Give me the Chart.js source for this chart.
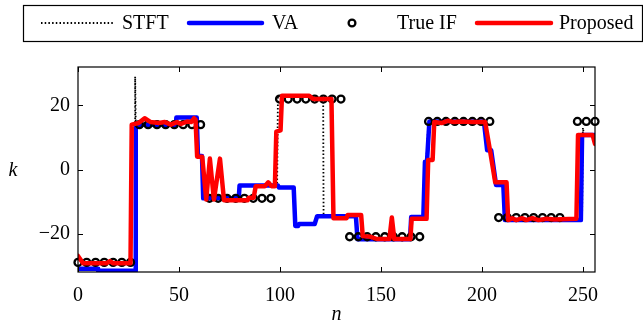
<!DOCTYPE html>
<html>
<head>
<meta charset="utf-8">
<script src="https://cdn.jsdelivr.net/npm/chart.js@4.4.1/dist/chart.umd.min.js"></script>
<style>
  html, body { margin: 0; padding: 0; background: #fff; }
  #wrap { width: 643px; height: 328px; }
</style>
</head>
<body>
<div id="wrap"><canvas id="chart" width="643" height="328"></canvas></div>
<script>
// axis ranges and ticks
const N_MIN = 0, N_MAX = 256;
const K_MIN = -32, K_MAX = 32;
const xTicks = [0, 50, 100, 150, 200, 250];
const yTicks = [-20, 0, 20];

// STFT estimate (dotted, mostly hidden under the other lines)
const stftN = [0, 10, 10, 28.3, 28.3, 28.6, 48.6, 48.6, 59, 59.2, 61.6, 61.8, 79.6, 79.8, 98.6, 99, 114.5, 116.5,
  121.4, 121.6, 137.8, 138, 164.6, 164.8, 171, 173.5, 201, 202.6, 204.6, 207, 210.6, 211.4, 249.6, 250, 250.6, 256];
const stftK = [-31, -31, -31.6, -31.6, 29, 14, 14, 16.2, 16.2, 4.2, 4.2, -9, -9, -5, -5, 23, 23, 22,
  22, -14.6, -14.6, -21.8, -21.8, -14.8, -14.8, 15, 15, 6, 6, -4.8, -4.8, -15.8, -15.8, 13, 10.8, 10.8];

// VA estimate
const vaN = [0, 10, 10, 28.4, 28.6, 48.5, 48.7, 58.8, 59.4, 61.4, 62, 79.6, 80, 99, 99.5, 106.8, 107.6, 109, 109.5,
  117.2, 118.4, 137.6, 138.4, 164.4, 165, 171, 171.8, 172.8, 174, 201, 202.6, 204.6, 207, 210.6, 211.4, 249, 249.6, 256];
const vaK = [-31, -31, -31.6, -31.6, 14, 14, 16.2, 16.2, 4.2, 4.2, -9, -9, -5, -5, -5.6, -5.6, -17.6, -17.6, -17,
  -17, -14.6, -14.6, -21.8, -21.8, -14.8, -14.8, 2.4, 2.4, 15, 15, 6, 6, -4.8, -4.8, -15.8, -15.8, 10.8, 10.8];

// true instantaneous frequency (markers)
const trueN = [0, 4.3, 8.7, 13, 17.4, 21.7, 26,
  30.4, 34.7, 39.1, 43.4, 47.7, 52.1, 56.4, 60.7,
  65.1, 69.4, 73.8, 78.1, 82.4, 86.8, 91.1, 95.5,
  99.8, 104.1, 108.5, 112.8, 117.2, 121.5, 125.8, 130.2,
  134.5, 138.8, 143.2, 147.5, 151.9, 156.2, 160.5, 164.9, 169.2,
  173.6, 177.9, 182.2, 186.6, 190.9, 195.3, 199.6, 203.9,
  208.3, 212.6, 217, 221.3, 225.6, 230, 234.3, 238.6,
  247.3, 251.7, 256];
const trueK = [-29, -29, -29, -29, -29, -29, -29,
  14, 14, 14, 14, 14, 14, 14, 14,
  -9, -9, -9, -9, -9, -9, -9, -9,
  22, 22, 22, 22, 22, 22, 22, 22,
  -21, -21, -21, -21, -21, -21, -21, -21, -21,
  15, 15, 15, 15, 15, 15, 15, 15,
  -15, -15, -15, -15, -15, -15, -15, -15,
  15, 15, 15];

// proposed estimate
const propN = [0, 2.5, 14, 15.8, 17.5, 26, 26.6, 30, 33, 36, 40, 43, 46, 49, 51, 54, 56, 57.5, 58.2, 59, 61.5,
  63.5, 65.3, 67.3, 70.3, 72.3, 84, 84.6, 87, 88, 92.5, 94.2, 95.8, 97.5, 98.2, 100.3, 101, 114.5, 116.5, 125.5,
  126.5, 133, 133.5, 140.2, 141, 145, 148, 154.2, 155.4, 156.6, 164.6, 165.2, 172.6, 173.4, 175.6, 176.4, 180,
  183, 186, 190, 195, 201.6, 204, 206.6, 212.2, 213, 215, 217, 220, 222, 225, 228, 232, 236, 246.8, 247.6, 254.8, 256];
const propK = [-27, -29.3, -29.3, -28.6, -29.3, -29.3, 14, 14.5, 16, 14.8, 14.5, 14.8, 14, 14.8, 14.2, 15, 14.8, 16, 15.5, 4, 4,
  -9.4, 3.4, -9.4, 3.4, -9.6, -9.6, -8.8, -8.8, -5.2, -5.2, -4, -5.2, -5.2, 11.8, 12.2, 23, 23, 22, 22,
  -15.2, -15.2, -14.2, -14.2, -20.8, -21, -21.7, -21.7, -15, -21.7, -21.7, -15.4, -15.4, 3, 3, 14.8, 14.5,
  15.2, 14.8, 15, 14.8, 14.8, 6, -4, -4, -15.8, -15.2, -15.8, -15.2, -15.8, -15.2, -15.8, -15.4, -15.6, -15.4, 10.8, 10.8, 8];

const toPoints = (xs, ys) => xs.map((x, i) => ({ x: x, y: ys[i] }));

const FONT = "'Liberation Serif', 'Times New Roman', serif";
const BLUE = '#0000ff';
const RED = '#ff0000';

// frame, inward ticks, axis names and the boxed legend
const decorations = {
  id: 'decorations',
  afterDraw(chart) {
    const ctx = chart.ctx;
    const area = chart.chartArea;
    const xs = chart.scales.x;
    const ys = chart.scales.y;
    ctx.save();
    ctx.strokeStyle = '#000';
    ctx.lineWidth = 1.2;
    ctx.strokeRect(area.left, area.top, area.right - area.left, area.bottom - area.top);

    ctx.lineWidth = 1;
    ctx.beginPath();
    xTicks.forEach(v => {
      const px = Math.round(xs.getPixelForValue(v)) + 0.5;
      ctx.moveTo(px, area.bottom); ctx.lineTo(px, area.bottom - 5);
      ctx.moveTo(px, area.top); ctx.lineTo(px, area.top + 5);
    });
    yTicks.forEach(v => {
      const py = Math.round(ys.getPixelForValue(v)) + 0.5;
      ctx.moveTo(area.left, py); ctx.lineTo(area.left + 5, py);
      ctx.moveTo(area.right, py); ctx.lineTo(area.right - 5, py);
    });
    ctx.stroke();

    ctx.fillStyle = '#000';
    ctx.font = 'italic 20px ' + FONT;
    ctx.textAlign = 'center';
    ctx.textBaseline = 'alphabetic';
    ctx.fillText('n', (area.left + area.right) / 2, 320);
    ctx.fillText('k', 13, 176);

    // legend
    const ly = 23;
    ctx.lineWidth = 1.2;
    ctx.strokeRect(23.5, 5.5, 619, 36);
    ctx.font = '20px ' + FONT;
    ctx.textAlign = 'left';
    ctx.textBaseline = 'middle';

    ctx.lineWidth = 1.8;
    ctx.setLineDash([1.5, 2.2]);
    ctx.beginPath(); ctx.moveTo(41, ly); ctx.lineTo(113, ly); ctx.stroke();
    ctx.setLineDash([]);
    ctx.fillText('STFT', 122, ly + 1);

    ctx.lineCap = 'round';
    ctx.strokeStyle = BLUE; ctx.lineWidth = 4.5;
    ctx.beginPath(); ctx.moveTo(189, ly); ctx.lineTo(262, ly); ctx.stroke();
    ctx.fillText('VA', 272, ly + 1);

    ctx.strokeStyle = '#000'; ctx.lineWidth = 2.3;
    ctx.beginPath(); ctx.arc(352, ly, 3.4, 0, Math.PI * 2); ctx.stroke();
    ctx.fillText('True IF', 397, ly + 1);

    ctx.strokeStyle = RED; ctx.lineWidth = 4.5;
    ctx.beginPath(); ctx.moveTo(477, ly); ctx.lineTo(551, ly); ctx.stroke();
    ctx.fillText('Proposed', 559, ly + 1);
    ctx.restore();
  }
};

const tickFont = { family: FONT, size: 20 };

new Chart(document.getElementById('chart'), {
  type: 'line',
  data: {
    datasets: [
      {
        label: 'Proposed',
        data: toPoints(propN, propK),
        borderColor: RED,
        borderWidth: 4.5,
        borderJoinStyle: 'round',
        borderCapStyle: 'round',
        pointRadius: 0,
        tension: 0,
        order: 0
      },
      {
        label: 'True IF',
        data: toPoints(trueN, trueK),
        showLine: false,
        pointStyle: 'circle',
        pointRadius: 3.5,
        pointBorderWidth: 2.3,
        pointBorderColor: '#000',
        pointBackgroundColor: 'rgba(0,0,0,0)',
        clip: false,
        order: 1
      },
      {
        label: 'VA',
        data: toPoints(vaN, vaK),
        borderColor: BLUE,
        borderWidth: 4.5,
        borderJoinStyle: 'round',
        borderCapStyle: 'round',
        pointRadius: 0,
        tension: 0,
        order: 2
      },
      {
        label: 'STFT',
        data: toPoints(stftN, stftK),
        borderColor: '#000',
        borderWidth: 1.8,
        borderDash: [1.5, 2.2],
        pointRadius: 0,
        tension: 0,
        order: 3
      }
    ]
  },
  options: {
    responsive: false,
    devicePixelRatio: 1,
    animation: false,
    layout: { padding: { left: 0, top: 67, right: 48, bottom: 0 } },
    plugins: {
      legend: { display: false },
      tooltip: { enabled: false }
    },
    scales: {
      x: {
        type: 'linear',
        min: N_MIN,
        max: N_MAX,
        grid: { display: false, drawTicks: false },
        border: { display: false },
        ticks: { font: tickFont, color: '#000', padding: 12, maxRotation: 0, autoSkip: false },
        afterBuildTicks: s => { s.ticks = xTicks.map(v => ({ value: v })); },
        afterFit: s => { s.height = 56; }
      },
      y: {
        type: 'linear',
        min: K_MIN,
        max: K_MAX,
        grid: { display: false, drawTicks: false },
        border: { display: false },
        ticks: {
          font: tickFont,
          color: '#000',
          padding: 8,
          callback: v => (v < 0 ? '\u2212' + Math.abs(v) : String(v))
        },
        afterBuildTicks: s => { s.ticks = yTicks.map(v => ({ value: v })); },
        afterFit: s => { s.width = 78; }
      }
    }
  },
  plugins: [decorations]
});
</script>
</body>
</html>
